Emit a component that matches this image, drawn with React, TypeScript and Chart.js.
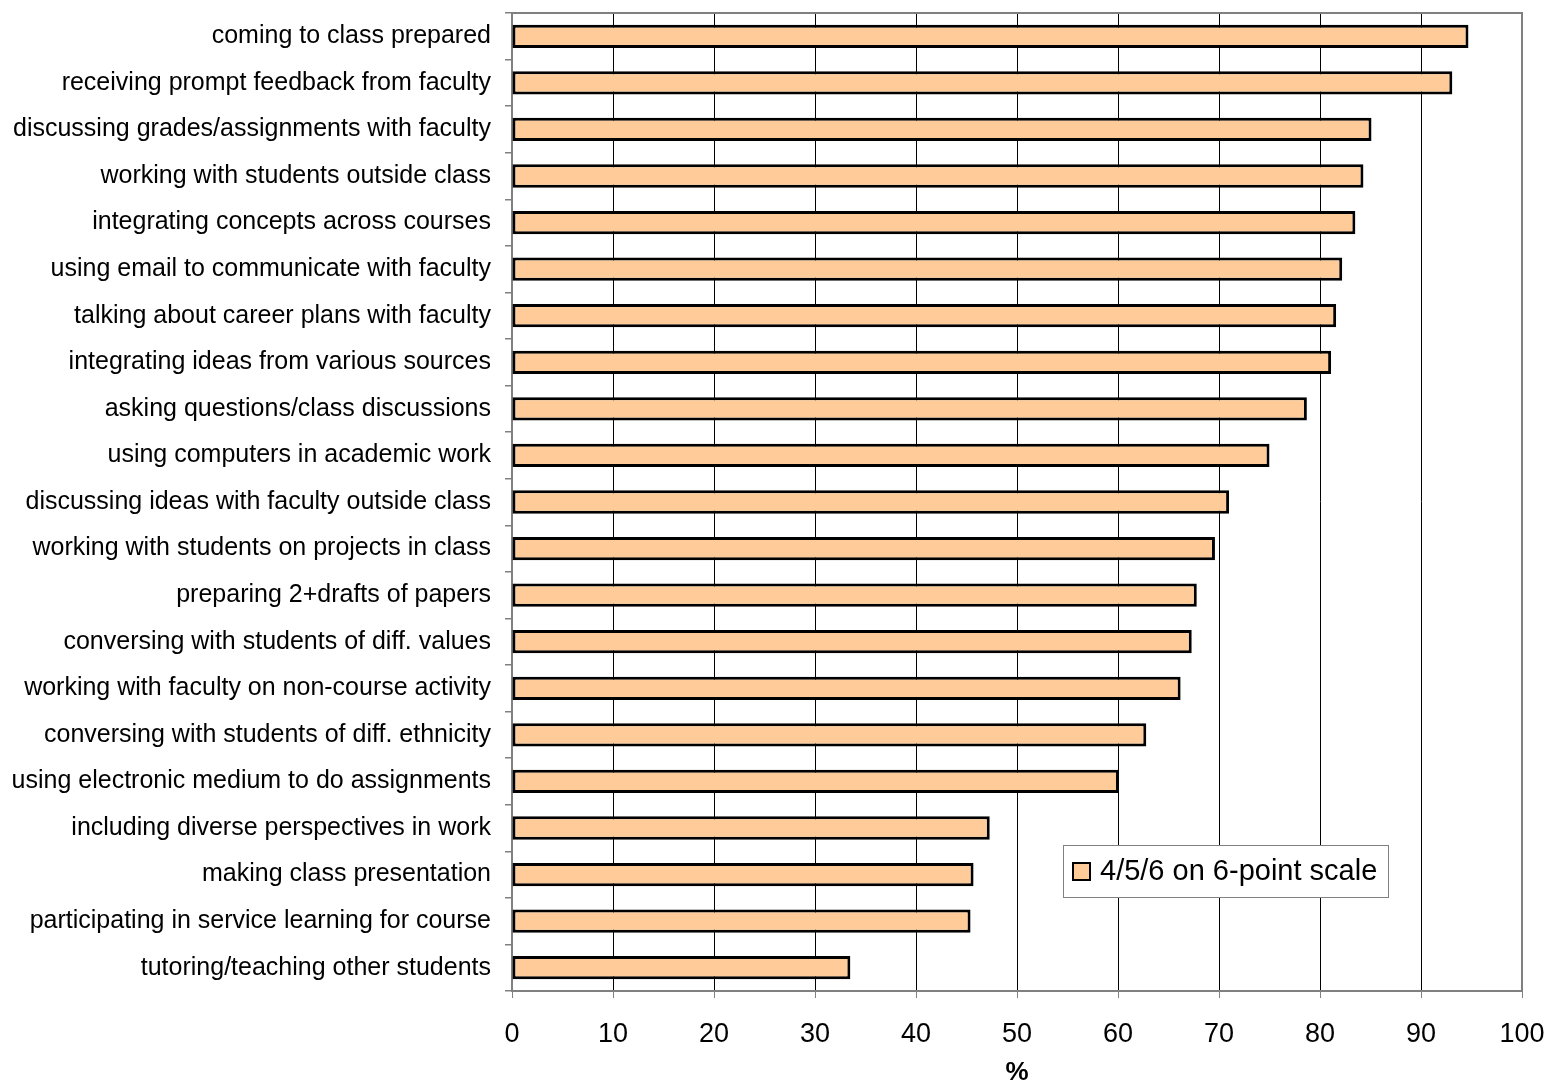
import React, { useEffect, useRef } from "react";
import { Chart, registerables } from "chart.js";

Chart.register(...registerables);

const categories = [
  "coming to class prepared",
  "receiving prompt feedback from faculty",
  "discussing grades/assignments with faculty",
  "working with students outside class",
  "integrating concepts across courses",
  "using email to communicate with faculty",
  "talking about career plans with faculty",
  "integrating ideas from various sources",
  "asking questions/class discussions",
  "using computers in academic work",
  "discussing ideas with faculty outside class",
  "working with students on projects in class",
  "preparing 2+drafts of papers",
  "conversing with students of diff. values",
  "working with faculty on non-course activity",
  "conversing with students of diff. ethnicity",
  "using electronic medium to do assignments",
  "including diverse perspectives in work",
  "making class presentation",
  "participating in service learning for course",
  "tutoring/teaching other students",
];

const seriesLabel = "4/5/6 on 6-point scale";
const values = [
  94.7, 93.1, 85.1, 84.3, 83.5, 82.2, 81.6, 81.1, 78.7, 75.0, 71.0, 69.6, 67.8,
  67.3, 66.2, 62.8, 60.1, 47.3, 45.7, 45.4, 33.5,
];

const xMin = 0;
const xMax = 100;
const xStep = 10;
const xTitle = "%";

const FONT = "'Liberation Sans', Arial, sans-serif";

function zeroPadding(scale: any) {
  scale.paddingLeft = 0;
  scale.paddingRight = 0;
  scale.paddingTop = 0;
  scale.paddingBottom = 0;
}

export default function App() {
  const ref = useRef<HTMLCanvasElement | null>(null);

  useEffect(() => {
    document.body.style.margin = "0";
    const canvas = ref.current;
    if (!canvas) return;

    const framePlugin = {
      id: "frame",
      afterDatasetsDraw(chart: any) {
        const { ctx, chartArea } = chart;
        ctx.save();
        ctx.strokeStyle = "#808080";
        ctx.lineWidth = 2;
        ctx.beginPath();
        ctx.moveTo(chartArea.left, chartArea.top);
        ctx.lineTo(chartArea.right, chartArea.top);
        ctx.lineTo(chartArea.right, chartArea.bottom);
        ctx.stroke();
        ctx.restore();
      },
    };

    const legendPlugin = {
      id: "boxLegend",
      afterDraw(chart: any) {
        const { ctx } = chart;
        const ds = chart.data.datasets[0];
        const bx = 1063;
        const by = 845;
        const bw = 325;
        const bh = 52;
        ctx.save();
        ctx.fillStyle = "#ffffff";
        ctx.fillRect(bx, by, bw, bh);
        ctx.strokeStyle = "#808080";
        ctx.lineWidth = 1;
        ctx.strokeRect(bx + 0.5, by + 0.5, bw, bh);
        ctx.fillStyle = ds.backgroundColor;
        ctx.fillRect(bx + 10, by + 18, 17, 17);
        ctx.strokeStyle = ds.borderColor;
        ctx.lineWidth = 2;
        ctx.strokeRect(bx + 10, by + 18, 17, 17);
        ctx.fillStyle = "#000";
        ctx.font = `29px ${FONT}`;
        ctx.textBaseline = "middle";
        ctx.textAlign = "left";
        ctx.fillText(ds.label, bx + 37, by + 27);
        ctx.restore();
      },
    };

    const chart = new Chart(canvas, {
      type: "bar",
      data: {
        labels: categories,
        datasets: [
          {
            label: seriesLabel,
            data: values,
            backgroundColor: "#FFCC99",
            borderColor: "#000000",
            borderWidth: 3,
            borderSkipped: false,
            categoryPercentage: 1,
            barPercentage: 0.5,
          },
        ],
      },
      options: {
        indexAxis: "y",
        responsive: false,
        animation: false,
        layout: { padding: { top: 13, right: 28, left: 0, bottom: 0 } },
        plugins: {
          legend: { display: false },
          tooltip: { enabled: false },
        },
        scales: {
          y: {
            type: "category",
            grid: {
              drawOnChartArea: false,
              drawTicks: true,
              tickLength: 7,
              color: "#808080",
              offset: true,
              lineWidth: 1.5,
            },
            border: { display: true, color: "#808080", width: 2 },
            ticks: {
              color: "#000",
              font: { family: FONT, size: 25 },
              padding: 14,
              autoSkip: false,
            },
            afterFit(scale: any) {
              scale.width = 512;
              zeroPadding(scale);
            },
          },
          x: {
            type: "linear",
            min: xMin,
            max: xMax,
            grid: {
              color: "#000",
              lineWidth: 1,
              tickLength: 7,
              tickColor: "#808080",
            },
            border: { display: true, color: "#808080", width: 2 },
            ticks: {
              stepSize: xStep,
              color: "#000",
              font: { family: FONT, size: 27 },
              padding: 20,
            },
            title: {
              display: true,
              text: xTitle,
              color: "#000",
              font: { family: FONT, size: 26, weight: "bold" },
              padding: { top: 0, bottom: -5 },
            },
            afterFit(scale: any) {
              scale.height = 92;
              zeroPadding(scale);
            },
          },
        },
      },
      plugins: [framePlugin, legendPlugin],
    } as any);

    return () => chart.destroy();
  }, []);

  return (
    <div style={{ position: "absolute", left: 0, top: 0, width: 1550, height: 1083 }}>
      <canvas ref={ref} width={1550} height={1083} />
    </div>
  );
}
